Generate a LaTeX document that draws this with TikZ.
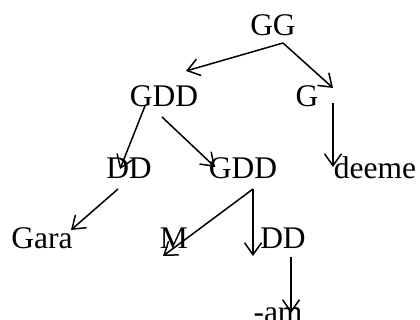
\documentclass[tikz,border=0pt]{standalone}
\usepackage{fontspec}
\setmainfont{Liberation Serif}
\usetikzlibrary{arrows.meta}
\begin{document}
\begin{tikzpicture}[x=1pt,y=-1pt,
  lbl/.style={anchor=base,inner sep=0pt,font=\fontsize{31.5}{36}\selectfont},
  arr/.style={-{Straight Barb[length=12pt,width=17pt]},line width=1.5pt}]
\useasboundingbox (0,0) rectangle (420,320);
\begin{scope}
\clip (0,0) rectangle (420,320);
\node[lbl] (GG) at (273,36) {GG};
\node[lbl] (GDDa) at (164,107) {GDD};
\node[lbl] (G) at (307,107) {G};
\node[lbl] (DDa) at (129,179) {DD};
\node[lbl] (GDDb) at (243,179) {GDD};
\node[lbl] (deeme) at (375,179) {deeme};
\node[lbl] (Gara) at (42,249) {Gara};
\node[lbl] (M) at (174,249) {M};
\node[lbl] (DDb) at (283,249) {DD};
\node[lbl] (am) at (278,322) {-am};

\coordinate (GGs) at (283,43);
\coordinate (GDDaT) at (186,71);
\coordinate (GT) at (333,88);
\coordinate (Gs) at (333,103);
\coordinate (deemeT) at (333,167);
\coordinate (GDDsl) at (145,106);
\coordinate (DDaT) at (120,169);
\coordinate (GDDsr) at (162,117);
\coordinate (GDDbT) at (215,167);
\coordinate (DDas) at (118,189);
\coordinate (GaraT) at (71,230);
\coordinate (GDDbs) at (253,189);
\coordinate (MT) at (163,256);
\coordinate (DDbT) at (253,256);
\coordinate (DDbs) at (291,257);
\coordinate (amT) at (291,313);

\draw[arr] (GGs) -- (GDDaT);
\draw[arr] (GGs) -- (GT);
\draw[arr] (Gs) -- (deemeT);
\draw[arr] (GDDsl) -- (DDaT);
\draw[arr] (GDDsr) -- (GDDbT);
\draw[arr] (DDas) -- (GaraT);
\draw[arr] (GDDbs) -- (MT);
\draw[arr] (GDDbs) -- (DDbT);
\draw[arr] (DDbs) -- (amT);
\end{scope}
\end{tikzpicture}
\end{document}
